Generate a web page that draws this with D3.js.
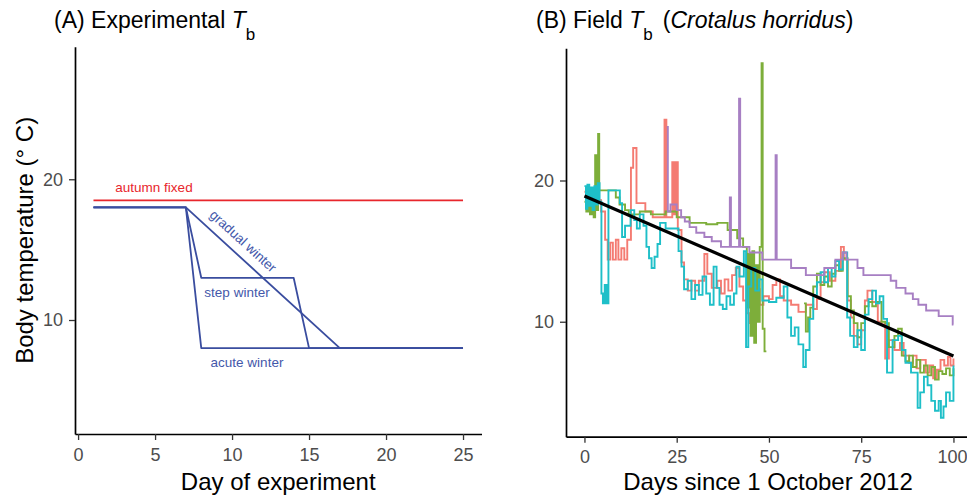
<!DOCTYPE html>
<html>
<head>
<meta charset="utf-8">
<script src="https://cdn.jsdelivr.net/npm/d3@7"></script>
<style>
  body { margin: 0; background: #fff; }
  svg { font-family: "Liberation Sans", Arial, sans-serif; }
</style>
</head>
<body>
<svg width="967" height="500"></svg>
<script>
// panel A: experimental body temperature profiles [day, Tb]
var autumnFixed   = [[1, 18.5], [25, 18.5]];
var acuteWinter   = [[1, 18], [7, 18], [8, 8], [25, 8]];
var stepWinter    = [[1, 18], [7, 18], [8, 13], [14, 13], [15, 8], [25, 8]];
var gradualWinter = [[1, 18], [7, 18], [17, 8], [25, 8]];
var dayTicks = [0, 5, 10, 15, 20, 25];

// panel B: field body temperature of four snakes [day, Tb], null = no data
var snakeRed = [[0,19.2],[1.0,18.6],[1.5,19.3],[3.4,18.6],[4.5,17.8],[5.6,15.8],[6.3,14.4],[7.0,15.6],[7.7,14.4],[8.5,15.8],[9.2,14.4],[10.0,15.2],[10.8,14.4],[11.6,15.8],[12.6,20.9],[13.2,22.3],[14.1,18.4],[16.5,17.8],[18.5,17.4],[21.7,24.3],[22.2,17.4],[23.8,21.3],[24.3,17.6],[24.8,21.3],[25.3,16.5],[26.3,14.2],[27.0,13.0],[28.0,12.2],[29.0,12.9],[30.0,12.2],[31.0,12.9],[32.5,14.8],[33.3,13.4],[34.5,12.4],[36.0,12.9],[37.0,12.0],[38.0,13.0],[39.0,12.2],[40.0,13.3],[41.0,13.8],[42.0,12.5],[43.0,11.5],[44.0,10.6],[44.8,9.9],[45.5,11.0],[46.5,12.3],[47.5,11.2],[48.5,11.8],[50.0,11.6],[51.0,12.6],[52.0,13.0],[53.0,11.8],[54.0,11.5],[56.0,11.2],[58.0,10.7],[60.0,11.2],[62.0,10.9],[63.0,11.6],[64.0,12.8],[65.0,13.5],[66.5,12.9],[68.0,13.6],[69.5,15.3],[70.3,14.4],[71.3,11.5],[72.2,10.3],[73.0,9.0],[74.0,8.4],[75.0,9.4],[76.0,11.5],[76.7,12.2],[78.0,11.4],[79.5,10.0],[80.5,9.8],[81.5,7.4],[82.5,8.7],[84.0,8.0],[85.5,8.5],[86.5,7.6],[88.0,7.1],[89.0,7.6],[90.0,6.7],[91.0,7.3],[92.5,6.4],[93.5,6.9],[94.5,6.0],[95.5,6.6],[96.5,7.3],[97.5,6.9],[98.5,7.5],[99.2,6.9],[100,7.4]];
var snakeGreen = [[0,18.5],[0.5,17.8],[1.0,18.6],[1.5,17.6],[2.0,18.2],[2.5,17.4],[2.9,21.8],[3.3,17.9],[3.7,23.3],[4.0,19.3],[8.5,18.8],[9.5,18.3],[11.0,17.9],[12.0,17.6],[15.0,17.8],[18.0,17.6],[22.0,17.8],[25.0,17.4],[28.5,17.0],[33.0,16.9],[36.0,17.0],[38.8,16.5],[41.4,15.9],[43.0,15.3],[44.0,11.0],[44.5,14.8],[45.0,9.0],[45.5,15.0],[46.0,8.5],[46.5,14.0],[47.0,10.0],[47.5,15.3],[48.0,28.3],[48.3,9.5],[48.8,7.9],[49.3,7.9],[49.3,null],[59.5,11.3],[60.0,9.3],[60.6,10.3],[61.2,11.0],[62.0,12.5],[63.0,13.4],[64.0,12.6],[65.0,13.2],[66.0,12.5],[67.0,13.4],[68.0,14.0],[69.0,13.6],[70.0,14.5],[71.3,11.8],[72.2,10.8],[73.0,9.9],[74.0,8.9],[75.0,9.9],[76.0,11.1],[77.0,11.4],[78.0,11.1],[79.0,11.4],[80.5,10.0],[81.5,9.9],[82.5,8.2],[84.0,9.0],[85.0,9.5],[86.0,7.6],[87.0,7.2],[88.0,7.6],[89.0,6.8],[90.0,7.3],[91.0,6.4],[92.0,6.9],[93.0,6.2],[94.0,6.8],[95.0,5.9],[96.0,6.5],[97.0,6.3],[98.0,6.7],[99.0,6.2],[100,6.7]];
var snakeCyan = [[0,19.6],[0.4,18.0],[0.8,19.7],[1.3,18.2],[1.8,19.5],[2.2,17.9],[2.7,19.6],[3.2,18.3],[3.6,19.8],[4.1,18.5],[4.6,12.0],[5.0,11.3],[5.5,12.6],[6.0,11.3],[6.5,19.3],[9.6,18.4],[10.2,16.0],[11.0,16.8],[12.5,17.9],[13.5,17.2],[14.2,16.6],[15.0,17.6],[16.0,16.8],[16.8,15.3],[17.5,14.5],[18.2,13.8],[19.0,14.6],[19.8,15.5],[20.5,17.0],[22.0,16.6],[25.5,15.0],[26.3,13.9],[27.0,12.3],[28.0,12.9],[29.0,11.6],[30.0,12.6],[31.0,11.9],[32.0,13.2],[33.0,12.0],[34.0,11.2],[35.0,13.9],[35.8,12.4],[36.6,11.2],[37.5,10.9],[38.5,11.8],[39.5,11.2],[40.5,12.0],[41.2,13.9],[42.0,13.2],[43.2,15.0],[43.8,8.2],[44.4,12.5],[45.2,13.8],[46.3,12.2],[47.3,13.0],[48.2,11.5],[50.0,11.4],[52.0,11.7],[54.0,12.5],[55.0,10.3],[56.0,9.0],[57.0,9.6],[58.0,8.4],[59.3,6.8],[60.0,8.0],[61.0,10.2],[62.0,11.9],[63.0,12.8],[64.0,13.5],[65.0,12.8],[66.0,13.8],[67.0,13.2],[68.0,14.3],[69.0,13.7],[70.0,14.9],[71.2,10.3],[72.0,9.0],[73.0,8.2],[74.0,9.4],[75.0,8.0],[76.0,10.5],[77.0,11.6],[78.0,12.2],[79.0,11.3],[80.0,11.8],[81.0,10.2],[82.0,6.4],[83.5,8.7],[85.0,9.0],[86.0,8.0],[87.0,7.1],[88.5,6.4],[90.3,3.9],[91.0,5.0],[92.0,6.1],[93.0,5.5],[94.0,4.4],[95.0,3.7],[96.0,4.4],[96.6,3.2],[97.3,4.0],[98.0,5.0],[99.0,4.4],[100,6.9]];
var snakePurple = [[22.3,23.8],[22.6,17.8],[23.3,18.3],[25.0,17.9],[26.2,17.4],[27.2,17.1],[28.5,16.7],[30.3,16.3],[32.5,16.0],[34.5,15.7],[37.0,15.3],[39.4,18.8],[39.7,15.3],[41.9,25.8],[42.2,15.3],[44.7,14.9],[48.2,14.4],[51.8,21.8],[52.1,14.4],[56.0,13.8],[60.0,13.3],[65.0,13.8],[68.0,14.4],[70.0,14.9],[71.0,14.4],[74.0,13.8],[75.6,13.3],[83.0,12.9],[84.5,12.4],[87.0,12.0],[89.0,11.6],[90.5,11.2],[92.6,10.8],[96.0,10.4],[99.8,9.8],[100,9.8]];
var trendDays = [0, 100];
var trendTb = [18.9, 7.57];
var fieldTicks = [0, 25, 50, 75, 100];
var tbTicks = [10, 20];

var svg = d3.select("svg");

// scales (ggplot style expanded limits)
var xA = d3.scaleLinear().domain([-0.2, 26.2]).range([75, 481.5]);
var yA = d3.scaleLinear().domain([1.9, 29.42]).range([434, 46.7]);
var xB = d3.scaleLinear().domain([-5, 105]).range([566, 971.9]);
var yB = d3.scaleLinear().domain([1.86, 29.36]).range([436.7, 48.3]);

function drawAxes(x, y, xt, yt) {
  var gx = svg.append("g")
      .attr("transform", "translate(0," + y.range()[0] + ")")
      .call(d3.axisBottom(x).tickValues(xt).tickSize(6).tickSizeOuter(0).tickPadding(8));
  var gy = svg.append("g")
      .attr("transform", "translate(" + x.range()[0] + ",0)")
      .call(d3.axisLeft(y).tickValues(yt).tickSize(6).tickSizeOuter(0).tickPadding(6));
  [gx, gy].forEach(function(g) {
    g.select(".domain").attr("stroke", "#000").attr("stroke-width", 1.7);
    g.selectAll(".tick line").attr("stroke", "#333").attr("stroke-width", 1.3);
    g.selectAll(".tick text")
      .attr("fill", "#4d4d4d")
      .style("font-size", "18px")
      .style("font-family", "'Liberation Sans', Arial, sans-serif");
  });
  return gx;
}

//////////// PANEL A ////////////
var lineA = d3.line()
  .x(function(d) { return xA(d[0]); })
  .y(function(d) { return yA(d[1]); });

svg.append("path").datum(autumnFixed)
  .attr("d", lineA).attr("fill", "none")
  .attr("stroke", "#e8262c").attr("stroke-width", 1.8);

[acuteWinter, stepWinter, gradualWinter].forEach(function(s) {
  svg.append("path").datum(s)
    .attr("d", lineA).attr("fill", "none")
    .attr("stroke", "#3a4d9f").attr("stroke-width", 1.8)
    .attr("stroke-linejoin", "round");
});

drawAxes(xA, yA, dayTicks, tbTicks);

svg.append("text").attr("x", 154).attr("y", 192)
  .attr("text-anchor", "middle").attr("fill", "#e8262c")
  .style("font-size", "13.5px").text("autumn fixed");
svg.append("text").attr("x", 237).attr("y", 297)
  .attr("text-anchor", "middle").attr("fill", "#4458aa")
  .style("font-size", "13.5px").text("step winter");
svg.append("text").attr("x", 247).attr("y", 367)
  .attr("text-anchor", "middle").attr("fill", "#4458aa")
  .style("font-size", "13.5px").text("acute winter");
svg.append("text")
  .attr("transform", "translate(240,244.5) rotate(42.4)")
  .attr("text-anchor", "middle").attr("fill", "#4458aa")
  .style("font-size", "13.5px").text("gradual winter");

// titles
var tA = svg.append("text").attr("x", 54).attr("y", 28).style("font-size", "23px");
tA.append("tspan").text("(A) Experimental ");
tA.append("tspan").style("font-style", "italic").text("T");
tA.append("tspan").attr("dy", 12).style("font-size", "17px").text("b");

svg.append("text").attr("x", xA(13)).attr("y", 490)
  .attr("text-anchor", "middle").style("font-size", "24px").text("Day of experiment");
svg.append("text")
  .attr("transform", "translate(33," + ((46.7 + 434) / 2) + ") rotate(-90)")
  .attr("text-anchor", "middle").style("font-size", "24px")
  .text("Body temperature (\u00b0 C)");

//////////// PANEL B ////////////
var lineB = d3.line()
  .defined(function(d) { return d[1] != null; })
  .curve(d3.curveStepAfter)
  .x(function(d) { return xB(d[0]); })
  .y(function(d) { return yB(d[1]); });

var snakes = [
  {data: snakeRed, color: "#f47b72"},
  {data: snakeGreen, color: "#7dae3a"},
  {data: snakeCyan, color: "#1ebfc8"},
  {data: snakePurple, color: "#a77fc3"}
];
snakes.forEach(function(s) {
  svg.append("path").datum(s.data)
    .attr("d", lineB).attr("fill", "none")
    .attr("stroke", s.color).attr("stroke-width", 1.9);
});

svg.append("line")
  .attr("x1", xB(trendDays[0])).attr("y1", yB(trendTb[0]))
  .attr("x2", xB(trendDays[1])).attr("y2", yB(trendTb[1]))
  .attr("stroke", "#000").attr("stroke-width", 3.2);

var gxB = drawAxes(xB, yB, fieldTicks, tbTicks);
// keep the last tick label inside the picture
gxB.selectAll(".tick text").filter(function(d) { return d === 100; })
  .attr("text-anchor", "end").attr("x", 13.5);

var tB = svg.append("text").attr("x", 536).attr("y", 28).style("font-size", "23px");
tB.append("tspan").text("(B) Field ");
tB.append("tspan").style("font-style", "italic").text("T");
tB.append("tspan").attr("dy", 12).style("font-size", "17px").text("b");
tB.append("tspan").attr("dy", -12).attr("dx", 10).text("(");
tB.append("tspan").style("font-style", "italic").text("Crotalus horridus");
tB.append("tspan").text(")");

svg.append("text").attr("x", 768).attr("y", 490)
  .attr("text-anchor", "middle").style("font-size", "24px")
  .text("Days since 1 October 2012");
</script>
</body>
</html>
